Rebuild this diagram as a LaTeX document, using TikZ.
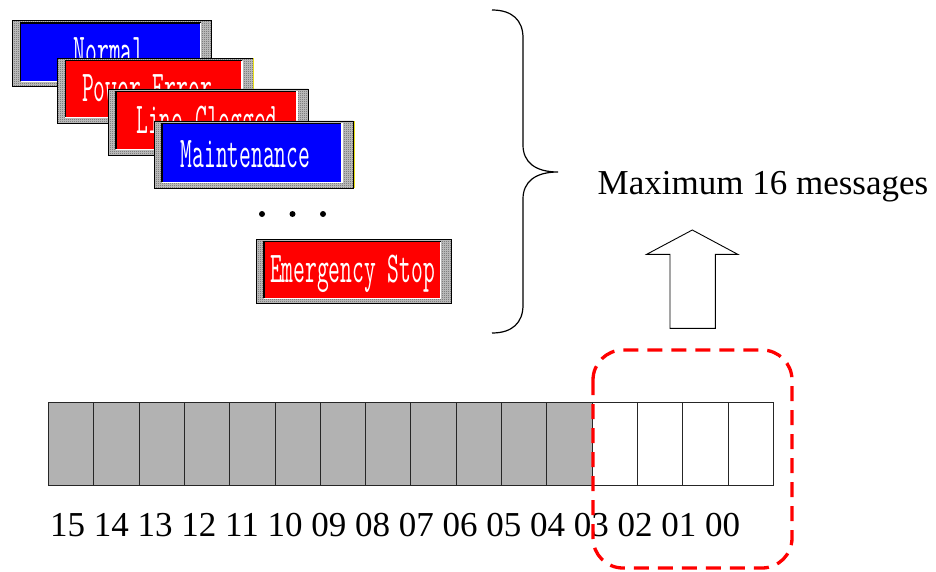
\documentclass[tikz,border=0pt]{standalone}
\usepackage{fontspec}
\setmainfont{Liberation Serif}
\usetikzlibrary{patterns}
\pgfdeclarepatternformonly{finecheck}{\pgfpointorigin}{\pgfqpoint{2pt}{2pt}}{\pgfqpoint{2pt}{2pt}}{%
  \pgfpathrectangle{\pgfpointorigin}{\pgfqpoint{1pt}{1pt}}%
  \pgfpathrectangle{\pgfqpoint{1pt}{1pt}}{\pgfqpoint{1pt}{1pt}}%
  \pgfusepath{fill}}
\tikzset{
  cellbox/.style={draw=black!85, line width=0.9pt, minimum width=45.33pt, minimum height=82.7pt, inner sep=0pt, outer sep=0pt, anchor=north west},
  graycell/.style={cellbox, fill=gray!60},
  whitecell/.style={cellbox, fill=white},
  btnframe/.style={fill=gray!45, postaction={pattern=finecheck, pattern color=black!65}},
  btnedge/.style={draw=black, line width=0.7pt},
  btntext/.style={text=white, font=\ttfamily\fontsize{44}{44}\selectfont, xscale=0.52, anchor=base, inner sep=0pt},
  bitlabel/.style={font=\fontsize{35}{35}\selectfont, inner sep=0pt, anchor=base west},
  redbox/.style={draw=red, line width=3.3pt, dash pattern=on 15pt off 9pt, rounded corners=30pt},
  hollowarrow/.style={draw=black, line width=0.9pt, fill=white},
  bracepath/.style={draw=black, line width=1.2pt},
  dotnode/.style={circle, fill=black, minimum size=6pt, inner sep=0pt},
  yellowedge/.style={draw=yellow!90!black, line width=1.5pt},
}
% #1 name, #2 left, #3 top, #4 right, #5 bottom, #6 colour, #7 text, #8 text x, #9 baseline
\newcommand\msgbtn[9]{%
  \path[btnframe] (#2,#3) rectangle (#4,#5);
  \path[btnedge] (#2,#3) rectangle (#4,#5);
  \fill[#6] ({#2+8},{#3+2.3}) rectangle ({#4-11},{#5-5.5});
  \draw[black, line width=1.3pt] ({#2+8},{#5-5.5}) -- ({#2+8},{#3+2.3}) -- ({#4-11},{#3+2.3});
  \draw[white, line width=1.3pt] ({#4-11},{#3+2.3}) -- ({#4-11},{#5-5.5}) -- ({#2+8},{#5-5.5});
  \node[btntext] (#1) at (#8,#9) {#7};
}
\begin{document}
\begin{tikzpicture}[x=1pt, y=-1pt]
\useasboundingbox (0,0) rectangle (936,572);

% message buttons
\msgbtn{normal}{12.7}{20.7}{211.7}{86.7}{blue}{Normal}{109}{65}
\msgbtn{power}{57.3}{58.3}{253}{123}{red}{Power Error}{147}{102}
\draw[yellowedge] (253.5,58.3) -- (253.5,123);
\msgbtn{line}{108}{89}{308}{155}{red}{Line Clogged}{207}{133.5}
\msgbtn{maint}{154}{121}{353}{188}{blue}{Maintenance}{245.5}{167.7}
\draw[yellowedge] (354.5,121) -- (354.5,188);

% dots
\node[dotnode] (d1) at (262,214) {};
\node[dotnode] (d2) at (292.5,214) {};
\node[dotnode] (d3) at (323,214) {};

\msgbtn{emerg}{256}{239.3}{451.7}{303.7}{red}{Emergency Stop}{352.5}{282}

% brace
\draw[bracepath] (492,10) .. controls (512,10) and (523,20) .. (523,38)
  -- (523,145) .. controls (523,162) and (535,172) .. (558,172)
  .. controls (535,172) and (523,182) .. (523,199)
  -- (523,305) .. controls (523,323) and (512,333) .. (492,333);

\node[bitlabel] (maxmsg) at (597.5,194.3) {Maximum 16 messages};

% hollow arrow
\draw[hollowarrow] (670,328.3) -- (670,254.3) -- (646.7,254.3) -- (692.3,230)
  -- (737.7,254.3) -- (715.3,254.3) -- (715.3,328.3) -- cycle;

% register
\foreach \i in {0,...,11} {
  \node[graycell] (cell\i) at ({48.3+45.33*\i},402.3) {};
}
\foreach \i in {12,...,15} {
  \node[whitecell] (cell\i) at ({48.3+45.33*\i},402.3) {};
}

\node[bitlabel] (bits) at (50,536.5) {15 14 13 12 11 10 09 08 07 06 05 04 03 02 01 00};

% selection
\draw[redbox] (593,350) rectangle (792,568);
\end{tikzpicture}
\end{document}
